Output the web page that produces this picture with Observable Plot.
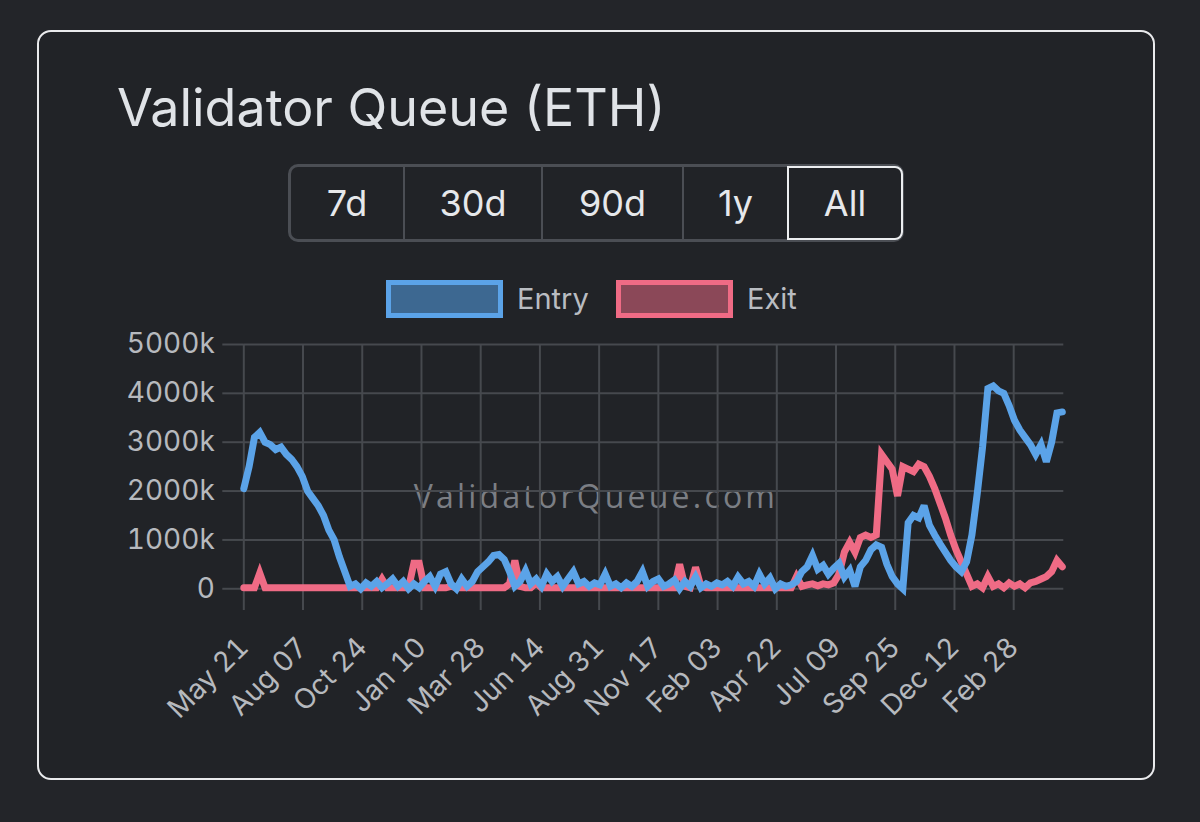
<!DOCTYPE html>
<html>
<head>
<meta charset="utf-8">
<script src="https://cdn.jsdelivr.net/npm/d3@7"></script>
<script src="https://cdn.jsdelivr.net/npm/@observablehq/plot@0.6"></script>
<style>
  html, body { margin: 0; padding: 0; background: #232529; }
  #page { position: relative; width: 1200px; height: 822px; overflow: hidden; background: #232529; }
  #card { position: absolute; left: 37px; top: 30px; width: 1118px; height: 750px; box-sizing: border-box;
          border: 2px solid #e9eaec; border-radius: 14px; background: #212327; }
  #title { position: absolute; left: 117px; top: 82px; font: 52px Inter, "Noto Sans", sans-serif; line-height: 1;
           color: #e0e3e7; white-space: nowrap; }
  #group { position: absolute; left: 288px; top: 164px; width: 616px; height: 78px; box-sizing: border-box;
           border: 3px solid #4b4e54; border-radius: 10px; }
  .btn { position: absolute; top: 166px; height: 74px; box-sizing: border-box; display: flex; align-items: center;
         justify-content: center; font: 36px Inter, "Noto Sans", sans-serif; color: #e6e8eb; }
  .div { position: absolute; top: 167px; width: 2px; height: 72px; background: #4b4e54; }
  .sel { border: 2px solid #eceef0; border-radius: 0 8px 8px 0; }
  .lbox { position: absolute; top: 280px; width: 117px; height: 38px; box-sizing: border-box; border: 5px solid; }
  .ltxt { position: absolute; top: 281px; font: 29px Inter, "Noto Sans", sans-serif; color: #b9bcc1; line-height: 36px; }
  #wm { position: absolute; left: 300px; width: 592px; top: 476px; text-align: center; font: 32px "Open Sans", sans-serif;
        letter-spacing: 3.2px; color: #7b7e84; line-height: 40px; }
  #chart { position: absolute; left: 0; top: 300px; }
</style>
</head>
<body>
<div id="page">
  <div id="card"></div>
  <div id="title">Validator Queue (ETH)</div>
  <div id="group"></div>
  <div id="buttons"></div>
  <div id="legend"></div>
  <div id="wm"></div>
  <div id="chart"></div>
</div>
<script>
// ---- data (values in thousands of ETH, one reading per week from the start date) ----
const startDate = "2023-05-21";
const stepDays = 7;
const endDate = "2026-05-05";
const tickDates = ["2023-05-21","2023-08-07","2023-10-24","2024-01-10","2024-03-28","2024-06-14","2024-08-31",
                   "2024-11-17","2025-02-03","2025-04-22","2025-07-09","2025-09-25","2025-12-12","2026-02-28"];
const yTicks = [0, 1000, 2000, 3000, 4000, 5000];
const seriesNames = ["Entry", "Exit"];
const rangeButtons = ["7d", "30d", "90d", "1y", "All"];
const watermark = "ValidatorQueue.com";

const entryK = [
  2050, 2500, 3100, 3200, 3000, 2950, 2850, 2900, 2750, 2650,
  2500, 2300, 2000, 1850, 1700, 1500, 1200, 1000, 650, 350,
  50, 100, 0, 120, 50, 150, 20, 100, 200, 50,
  150, 0, 100, 20, 150, 250, 50, 300, 350, 100,
  0, 200, 50, 150, 350, 450, 550, 680, 700, 600,
  350, 50, 150, 370, 100, 200, 50, 300, 150, 250,
  50, 200, 350, 100, 150, 50, 120, 80, 300, 50,
  100, 20, 120, 50, 150, 350, 50, 150, 200, 50,
  100, 180, 0, 150, 50, 240, 20, 100, 50, 120,
  80, 150, 50, 240, 100, 150, 50, 300, 100, 220,
  0, 100, 50, 80, 150, 350, 450, 680, 400, 480,
  300, 420, 520, 240, 380, 50, 450, 580, 800, 900,
  850, 500, 250, 100, 0, 1350, 1500, 1450, 1700, 1300,
  1100, 920, 750, 580, 450, 350, 550, 1100, 1950, 2900,
  4100, 4150, 4050, 4000, 3750, 3450, 3250, 3100, 2950, 2750,
  2950, 2600, 3000, 3600, 3620
];
const exitK = [
  20, 20, 20, 320, 20, 20, 20, 20, 20, 20,
  20, 20, 20, 20, 20, 20, 20, 20, 20, 20,
  20, 20, 20, 20, 20, 20, 200, 20, 20, 20,
  20, 20, 520, 520, 20, 20, 20, 20, 20, 50,
  20, 20, 20, 20, 20, 20, 20, 20, 20, 20,
  100, 580, 50, 20, 20, 120, 20, 20, 20, 20,
  20, 20, 20, 20, 20, 20, 20, 20, 20, 20,
  20, 20, 20, 20, 20, 20, 20, 20, 20, 20,
  20, 20, 500, 50, 20, 440, 50, 20, 20, 20,
  20, 20, 20, 20, 20, 20, 20, 20, 20, 20,
  20, 20, 20, 20, 250, 50, 80, 100, 60, 100,
  80, 120, 300, 750, 950, 750, 1050, 1100, 1050, 1100,
  2750, 2600, 2450, 1900, 2500, 2450, 2400, 2550, 2500, 2300,
  2050, 1750, 1450, 1100, 800, 550, 300, 50, 100, 20,
  250, 50, 100, 20, 120, 50, 100, 20, 120, 150,
  200, 250, 350, 580, 450
];

// ---- styles ----
const blue = "#5ba3e8", pink = "#ef6b85";
const blueFill = "#3d6891", pinkFill = "#8b4858";
const gridColor = "#46494e", labelColor = "#b6b9be";

// ---- page chrome ----
document.getElementById("wm").textContent = watermark;
const btnGeom = [[291, 112], [405, 136], [543, 139], [684, 103], [787, 116]];
const btnWrap = document.getElementById("buttons");
rangeButtons.forEach((t, i) => {
  const [l, w] = btnGeom[i];
  const b = document.createElement("div");
  b.className = "btn" + (t === "All" ? " sel" : "");
  b.style.left = l + "px"; b.style.width = w + "px";
  b.textContent = t;
  btnWrap.appendChild(b);
  if (i > 0 && i < 4) {
    const d = document.createElement("div");
    d.className = "div"; d.style.left = (l - 2) + "px";
    btnWrap.appendChild(d);
  }
});
const legWrap = document.getElementById("legend");
const legGeom = [[386, 517, blue, blueFill], [616, 747, pink, pinkFill]];
seriesNames.forEach((n, i) => {
  const [bx, tx, c, f] = legGeom[i];
  const box = document.createElement("div");
  box.className = "lbox"; box.style.left = bx + "px"; box.style.borderColor = c; box.style.background = f;
  legWrap.appendChild(box);
  const t = document.createElement("div");
  t.className = "ltxt"; t.style.left = tx + "px"; t.textContent = n;
  legWrap.appendChild(t);
});

// ---- chart ----
const start = new Date(startDate + "T00:00:00Z");
const data = entryK.map((v, i) => ({
  date: new Date(start.getTime() + i * stepDays * 864e5),
  entry: v,
  exit: exitK[i]
}));
const xt = tickDates.map(d => new Date(d + "T00:00:00Z"));

const chart = Plot.plot({
  width: 1200,
  height: 470,
  marginLeft: 243.3,
  marginRight: 136.7,
  marginTop: 44,
  marginBottom: 170,
  style: {background: "transparent", color: labelColor, fontFamily: "Inter, 'Noto Sans', sans-serif", fontSize: "28px"},
  x: {type: "utc", domain: [start, new Date(endDate + "T00:00:00Z")]},
  y: {domain: [-240, 5000]},
  marks: [
    Plot.gridX(xt, {stroke: gridColor, strokeOpacity: 1, strokeWidth: 2}),
    Plot.gridY(yTicks, {stroke: gridColor, strokeOpacity: 1, strokeWidth: 2}),
    Plot.axisY({ticks: yTicks, tickSize: 21, tickPadding: 8, stroke: gridColor, strokeWidth: 2, fill: labelColor,
                tickFormat: d => d === 0 ? "0" : d + "k", label: null}),
    Plot.axisX({ticks: xt, tickSize: 10, tickPadding: 32, tickRotate: -45, stroke: gridColor, strokeWidth: 2, fill: labelColor,
                tickFormat: d3.utcFormat("%b %d"), label: null}),
    Plot.lineY(data, {x: "date", y: "exit", stroke: pink, strokeWidth: 7, strokeLinejoin: "miter", strokeMiterlimit: 3}),
    Plot.lineY(data, {x: "date", y: "entry", stroke: blue, strokeWidth: 7, strokeLinejoin: "miter", strokeMiterlimit: 3})
  ]
});
document.getElementById("chart").appendChild(chart);
</script>
</body>
</html>
